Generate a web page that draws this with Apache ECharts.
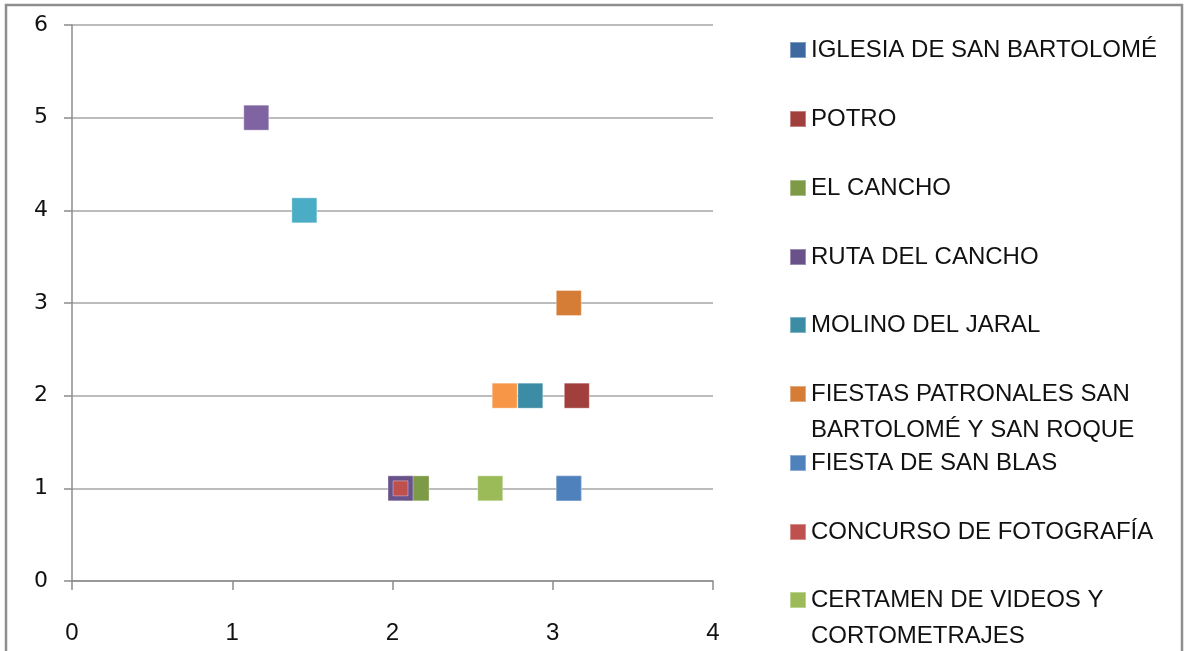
<!DOCTYPE html>
<html>
<head>
<meta charset="utf-8">
<script src="https://cdn.jsdelivr.net/npm/echarts@6/dist/echarts.min.js"></script>
<style>
  html, body { margin: 0; padding: 0; background: #fff; }
  #container { width: 1187px; height: 651px; }
</style>
</head>
<body>
<div id="container"></div>
<script>
// series names (last three are not visible in the cut-off legend)
const seriesNames = [
    'IGLESIA DE SAN BARTOLOMÉ',
    'POTRO',
    'EL CANCHO',
    'RUTA DEL CANCHO',
    'MOLINO DEL JARAL',
    'FIESTAS PATRONALES SAN\nBARTOLOMÉ Y SAN ROQUE',
    'FIESTA DE SAN BLAS',
    'CONCURSO DE FOTOGRAFÍA',
    'CERTAMEN DE VIDEOS Y\nCORTOMETRAJES',
    'Serie 10',
    'Serie 11',
    'Serie 12'
];
const xValues = [3.1, 3.15, 2.15, 2.05, 2.86, 3.1, 3.1, 2.05, 2.61, 1.15, 1.45, 2.7];
const yValues = [1, 2, 1, 1, 2, 3, 1, 1, 1, 5, 4, 2];
const colors = ['#3d69a0', '#a13f3c', '#7d9a47', '#69518a', '#3b8ca4', '#d57d36',
                '#4f81bd', '#c0504d', '#9bbb59', '#8064a2', '#4bacc6', '#f79646'];
const markerSizes = [25, 25, 25, 25, 25, 25, 25, 15, 25, 25, 25, 25];
const yTicks = [0, 1, 2, 3, 4, 5, 6];
const xTicks = [0, 1, 2, 3, 4];

const chart = echarts.init(document.getElementById('container'), null, { renderer: 'canvas' });

const legendCount = 9;
const legendRowCenters = [50, 119, 188, 257, 325, 394, 463, 532, 600];
const legends = [];
for (let i = 0; i < legendCount; i++) {
    const twoLines = seriesNames[i].indexOf('\n') >= 0;
    legends.push({
        data: [seriesNames[i]],
        left: 789,
        top: legendRowCenters[i] - (twoLines ? 54 : 18),
        padding: 0,
        icon: 'rect',
        itemWidth: 16,
        itemHeight: 16,
        selectedMode: false,
        // empty first line keeps the icon level with the first text line
        formatter: twoLines ? (n => '\n' + n) : (n => n),
        textStyle: {
            fontFamily: 'Liberation Sans',
            fontSize: 24,
            color: '#111',
            lineHeight: 36
        }
    });
}

const option = {
    backgroundColor: '#fff',
    animation: false,
    color: colors,
    graphic: [{
        type: 'rect',
        shape: { x: 6, y: 5, width: 1176, height: 700 },
        style: { fill: 'none', stroke: '#8e8e8e', lineWidth: 2.5 },
        silent: true
    }],
    legend: legends,
    grid: { left: 72, right: 474, top: 25, bottom: 70 },
    xAxis: {
        type: 'value',
        min: xTicks[0],
        max: xTicks[xTicks.length - 1],
        interval: 1,
        splitLine: { show: false },
        axisLine: { lineStyle: { color: '#8c8c8c', width: 1.5 } },
        axisTick: { show: true, length: 9, lineStyle: { color: '#8c8c8c', width: 1.5 } },
        axisLabel: { fontFamily: 'Liberation Sans', fontSize: 24, color: '#111', margin: 40 }
    },
    yAxis: {
        type: 'value',
        min: yTicks[0],
        max: yTicks[yTicks.length - 1],
        interval: 1,
        splitLine: { show: true, lineStyle: { color: '#a6a6a6', width: 1.5 } },
        axisLine: { show: true, lineStyle: { color: '#8c8c8c', width: 1.5 } },
        axisTick: { show: true, length: 8, lineStyle: { color: '#8c8c8c', width: 1.5 } },
        axisLabel: { fontFamily: 'DejaVu Sans', fontSize: 22, color: '#111', margin: 24 }
    },
    series: seriesNames.map((name, i) => ({
        name: name,
        type: 'scatter',
        symbol: 'rect',
        symbolSize: markerSizes[i],
        itemStyle: { color: colors[i], opacity: 1, borderColor: 'rgba(255,255,255,0.35)', borderWidth: 1 },
        data: [[xValues[i], yValues[i]]]
    }))
};

chart.setOption(option);
window.addEventListener('resize', () => chart.resize());
</script>
</body>
</html>
